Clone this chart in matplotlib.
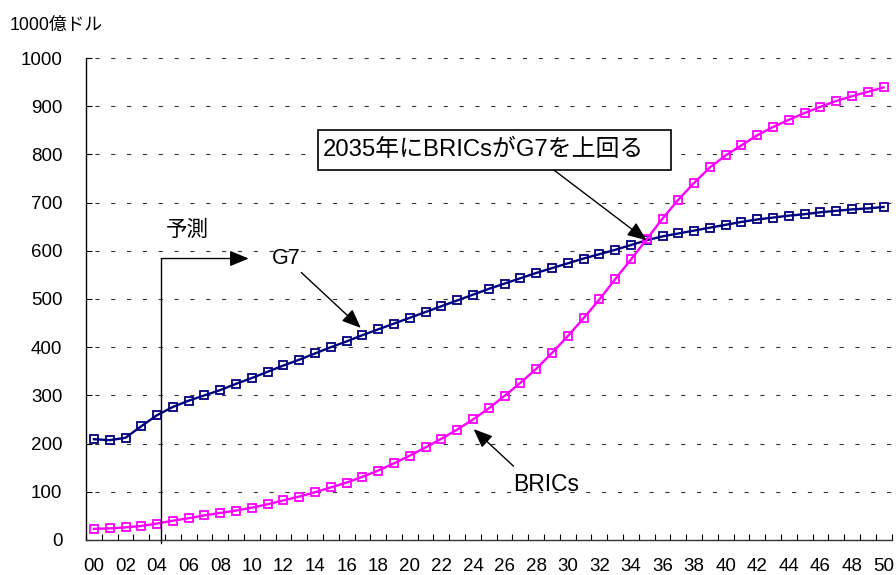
import numpy as np
import matplotlib.pyplot as plt
from matplotlib.patches import Rectangle

plt.rcParams['font.family'] = ['Liberation Sans', 'Noto Sans CJK JP']
plt.rcParams['lines.scale_dashes'] = False

# 2000年～2050年のGDP (単位: 1000億ドル)
years = list(range(0, 51))
year_labels = ["%02d" % y for y in range(0, 51, 2)]
g7 = [209, 207, 212, 236, 259, 276, 289, 300, 311, 324,
      336, 349, 362, 374, 387, 400, 412, 425, 437, 449,
      461, 473, 485, 497, 509, 521, 532, 543, 554, 564,
      574, 584, 593, 602, 612, 622, 630, 636, 642, 648,
      654, 660, 665, 669, 673, 676, 680, 683, 686, 688, 691]
brics = [23, 24, 26, 29, 34, 40, 45, 51, 56, 61,
         67, 74, 82, 90, 99, 109, 119, 131, 144, 159,
         175, 192, 210, 229, 250, 273, 299, 326, 355, 388,
         423, 460, 499, 541, 582, 624, 667, 706, 741, 773,
         798, 819, 840, 857, 872, 886, 899, 911, 921, 930, 939]

fig = plt.figure(figsize=(8.96, 5.75), dpi=100)
ax = fig.add_axes([0.096, 0.061, 0.899, 0.838])

ax.grid(axis='y', color='#333333', linewidth=0.8, linestyle=(5, (3, 8.4)), zorder=0)
ax.set_axisbelow(True)

ax.plot(years, g7, color='#000080', linewidth=1.7, marker='s', markersize=5.5,
        markerfacecolor='none', markeredgewidth=1.3, zorder=5)
ax.plot(years, brics, color='#FF00FF', linewidth=1.7, marker='s', markersize=5.5,
        markerfacecolor='none', markeredgewidth=1.3, zorder=5)

ax.set_xlim(-0.5, 50.5)
ax.set_ylim(0, 1000)

ax.spines['top'].set_visible(False)
ax.spines['right'].set_visible(False)
ax.spines['left'].set_linewidth(1.0)
ax.spines['bottom'].set_color('#333333')
ax.spines['bottom'].set_linewidth(1.0)

ax.set_xticks(range(0, 51, 2))
ax.set_xticklabels(year_labels)
ax.set_xticks(np.arange(-0.5, 51, 1), minor=True)
ax.tick_params(axis='x', which='major', length=0, pad=13, labelsize=13.5)
ax.tick_params(axis='x', which='minor', direction='in', length=4.5, width=0.8)
ax.set_yticks(range(0, 1001, 100))
ax.tick_params(axis='y', direction='in', length=4, width=0.8, pad=17, labelsize=13.5)

fig.text(0.011, 0.956, "1000億ドル", fontsize=12.8, ha='left', va='center')

# 予測区間の矢印
ax.plot([4.26, 4.26], [-7, 584], color='black', linewidth=1.0, clip_on=False, zorder=6)
ax.annotate("", xy=(9.8, 584), xytext=(4.26, 584),
            arrowprops=dict(arrowstyle='-|>,head_length=0.58,head_width=0.24',
                            mutation_scale=20, color='black', lw=1.0,
                            shrinkA=0, shrinkB=0))
ax.text(5.94, 642, "予測", fontsize=15.5, ha='center', va='center')

ax.text(12.2, 584, "G7", fontsize=15.5, ha='center', va='center')
ax.annotate("", xy=(16.9, 440), xytext=(13.13, 555),
            arrowprops=dict(arrowstyle='-|>,head_length=0.58,head_width=0.24',
                            mutation_scale=20, color='black', lw=1.0,
                            shrinkA=0, shrinkB=0))

ax.text(28.6, 115, "BRICs", fontsize=16.5, ha='center', va='center')
ax.annotate("", xy=(24.04, 230), xytext=(26.57, 153),
            arrowprops=dict(arrowstyle='-|>,head_length=0.58,head_width=0.24',
                            mutation_scale=20, color='black', lw=1.0,
                            shrinkA=0, shrinkB=0))

ax.add_patch(Rectangle((14.2, 768), 22.36, 83, facecolor='white', edgecolor='black',
                       linewidth=1.2, zorder=7))
ax.text(14.46, 810, "2035年にBRICsがG7を上回る", fontsize=17.2, ha='left', va='center', zorder=8)
ax.annotate("", xy=(34.98, 622), xytext=(29.15, 767),
            arrowprops=dict(arrowstyle='-|>,head_length=0.58,head_width=0.24',
                            mutation_scale=20, color='black', lw=1.0,
                            shrinkA=0, shrinkB=0), zorder=8)

plt.savefig('out.png', dpi=100)
